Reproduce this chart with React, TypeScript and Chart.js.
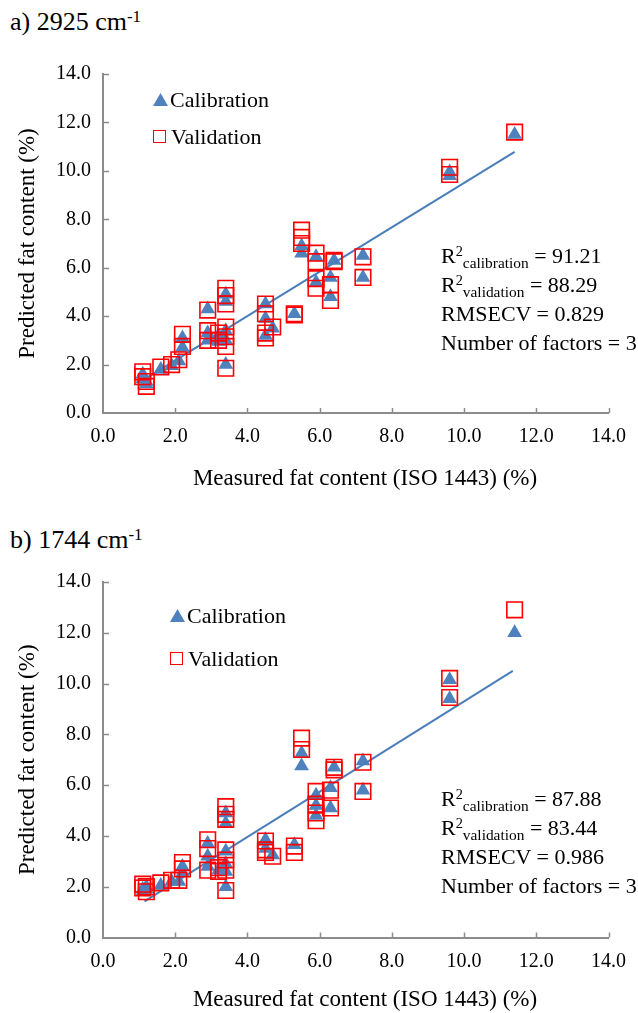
import React, { useEffect, useRef } from "react";
import { Chart, registerables } from "chart.js";

Chart.register(...registerables);

const FONT = "'Liberation Serif', 'Times New Roman', Times, serif";
const AXIS_COLOR = "#8c8c8c";
const CAL_COLOR = "#4f81bd";
const VAL_COLOR = "#ff0000";
const FIT_COLOR = "#4a7ebb";

// Tick values (labels shown with one decimal)
const xTickValues = [0, 2, 4, 6, 8, 10, 12, 14];
const yTickValues = [0, 2, 4, 6, 8, 10, 12, 14];

// ---------- Panel a) 2925 cm-1 ----------
const aCalX = [1.1, 1.1, 1.2, 1.2, 1.6, 1.9, 2.1, 2.2, 2.2, 2.9, 2.9, 2.9, 3.2, 3.2, 3.4, 3.4, 3.4, 3.4, 3.4, 4.5, 4.5, 4.5, 4.7, 5.3, 5.5, 5.5, 5.9, 5.9, 6.3, 6.3, 6.4, 7.2, 7.2, 9.6, 9.6, 11.4];
const aCalY = [1.6, 1.4, 1.3, 1.2, 1.8, 1.95, 2.15, 3.1, 2.7, 4.3, 3.3, 3.0, 3.2, 2.95, 4.9, 4.6, 3.4, 3.0, 2.0, 4.5, 3.9, 3.2, 3.5, 4.1, 6.9, 6.6, 6.45, 5.4, 5.6, 4.8, 6.3, 6.5, 5.6, 9.95, 9.8, 11.5];
const aValX = [1.1, 1.1, 1.2, 1.2, 1.6, 1.9, 2.1, 2.2, 2.2, 2.9, 2.9, 2.9, 3.2, 3.2, 3.4, 3.4, 3.4, 3.4, 3.4, 3.4, 3.4, 4.5, 4.5, 4.5, 4.5, 4.7, 5.3, 5.3, 5.5, 5.5, 5.5, 5.9, 5.9, 5.9, 5.9, 6.3, 6.3, 6.4, 6.4, 7.2, 7.2, 9.6, 9.6, 11.4];
const aValY = [1.7, 1.5, 1.3, 1.1, 1.9, 2.0, 2.2, 3.25, 2.75, 4.25, 3.4, 3.0, 3.3, 3.0, 5.15, 4.85, 4.5, 3.55, 3.15, 2.75, 1.85, 4.5, 4.1, 3.3, 3.1, 3.55, 4.1, 4.05, 7.55, 7.25, 7.0, 6.6, 6.25, 5.55, 5.15, 5.3, 4.65, 6.3, 6.25, 6.45, 5.6, 10.15, 9.85, 11.6];
const aFitX = [1.1, 11.4];
const aFitY = [1.35, 10.78];

// ---------- Panel b) 1744 cm-1 ----------
const bCalX = [1.1, 1.1, 1.2, 1.2, 1.6, 1.9, 2.1, 2.2, 2.2, 2.9, 2.9, 2.9, 3.2, 3.4, 3.4, 3.4, 3.4, 3.4, 3.4, 4.5, 4.5, 4.7, 5.3, 5.5, 5.5, 5.9, 5.9, 5.9, 6.3, 6.3, 6.4, 7.2, 7.2, 9.6, 9.6, 11.4];
const bCalY = [1.9, 1.8, 2.0, 1.9, 2.05, 2.2, 2.2, 2.8, 2.55, 3.7, 3.2, 2.8, 2.65, 4.9, 4.5, 3.4, 2.9, 2.6, 2.0, 3.85, 3.5, 3.25, 3.65, 7.25, 6.75, 5.6, 5.2, 4.8, 5.9, 5.1, 6.7, 6.95, 5.8, 10.15, 9.4, 12.0];
const bValX = [1.1, 1.1, 1.2, 1.2, 1.6, 1.9, 2.1, 2.2, 2.2, 2.9, 2.9, 2.9, 3.2, 3.2, 3.4, 3.4, 3.4, 3.4, 3.4, 3.4, 3.4, 4.5, 4.5, 4.5, 4.7, 5.3, 5.3, 5.5, 5.5, 5.9, 5.9, 5.9, 5.9, 6.3, 6.3, 6.4, 6.4, 7.2, 7.2, 9.6, 9.6, 11.4];
const bValY = [2.1, 1.95, 2.0, 1.8, 2.15, 2.25, 2.25, 2.95, 2.7, 3.85, 3.5, 2.65, 2.75, 2.6, 5.15, 4.85, 4.65, 3.45, 3.05, 2.65, 1.85, 3.8, 3.45, 3.35, 3.2, 3.6, 3.35, 7.85, 7.4, 5.75, 5.25, 4.9, 4.6, 5.8, 5.1, 6.7, 6.6, 6.9, 5.75, 10.2, 9.45, 12.9];
const bFitX = [1.15, 11.35];
const bFitY = [1.42, 10.5];

const toPoints = (xs: number[], ys: number[]) => xs.map((x, i) => ({ x, y: ys[i] }));

const innerTicks = {
  id: "innerTicks",
  afterDraw(chart: any) {
    const { ctx, chartArea: a, scales } = chart;
    ctx.save();
    ctx.strokeStyle = AXIS_COLOR;
    ctx.lineWidth = 1.5;
    scales.x.ticks.forEach((t: any) => {
      if (t.value === 0) return;
      const px = Math.round(scales.x.getPixelForValue(t.value)) + 0.5;
      ctx.beginPath();
      ctx.moveTo(px, a.bottom);
      ctx.lineTo(px, a.bottom - 5);
      ctx.stroke();
    });
    scales.y.ticks.forEach((t: any) => {
      if (t.value === 0) return;
      const py = Math.round(scales.y.getPixelForValue(t.value)) + 0.5;
      ctx.beginPath();
      ctx.moveTo(a.left, py);
      ctx.lineTo(a.left + 6, py);
      ctx.stroke();
    });
    ctx.restore();
  },
};

type PanelCfg = {
  width: number;
  height: number;
  padTop: number;
  padRight: number;
  yScaleWidth: number;
  xScaleHeight: number;
  cal: { x: number; y: number }[];
  val: { x: number; y: number }[];
  fit: { x: number; y: number }[];
};

function Panel({ cfg, style }: { cfg: PanelCfg; style: React.CSSProperties }) {
  const ref = useRef<HTMLCanvasElement | null>(null);
  useEffect(() => {
    if (!ref.current) return;
    const tickFont = { family: FONT, size: 20 };
    const chart = new Chart(ref.current, {
      type: "scatter",
      data: {
        datasets: [
          {
            label: "Validation",
            data: cfg.val,
            pointStyle: "rect",
            pointRadius: 11,
            pointHoverRadius: 11,
            borderColor: VAL_COLOR,
            backgroundColor: "rgba(0,0,0,0)",
            pointBorderWidth: 1.6,
            order: 0,
          } as any,
          {
            label: "Fit",
            type: "line",
            data: cfg.fit,
            borderColor: FIT_COLOR,
            borderWidth: 2,
            pointRadius: 0,
            showLine: true,
            fill: false,
            order: 1,
          } as any,
          {
            label: "Calibration",
            data: cfg.cal,
            pointStyle: "triangle",
            pointRadius: 8.5,
            pointHoverRadius: 8.5,
            borderColor: CAL_COLOR,
            backgroundColor: CAL_COLOR,
            pointBorderWidth: 0,
            order: 2,
          } as any,
        ],
      },
      options: {
        responsive: false,
        animation: false,
        devicePixelRatio: 1,
        events: [],
        layout: { padding: { top: cfg.padTop, right: cfg.padRight, left: 0, bottom: 0 } },
        plugins: { legend: { display: false }, tooltip: { enabled: false } },
        scales: {
          x: {
            type: "linear",
            min: 0,
            max: 14,
            afterBuildTicks: (s: any) => {
              s.ticks = xTickValues.map((v) => ({ value: v }));
            },
            afterFit: (s: any) => {
              s.height = cfg.xScaleHeight;
            },
            ticks: {
              callback: (v: any) => Number(v).toFixed(1),
              font: tickFont,
              color: "#000",
              padding: 12,
              maxRotation: 0,
              autoSkip: false,
            },
            grid: { display: true, drawOnChartArea: false, drawTicks: false },
            border: { display: true, color: AXIS_COLOR, width: 2 },
            title: { display: false },
          },
          y: {
            type: "linear",
            min: 0,
            max: 14,
            afterBuildTicks: (s: any) => {
              s.ticks = yTickValues.map((v) => ({ value: v }));
            },
            afterFit: (s: any) => {
              s.width = cfg.yScaleWidth;
            },
            ticks: {
              callback: (v: any) => Number(v).toFixed(1),
              font: tickFont,
              color: "#000",
              padding: 12,
              autoSkip: false,
            },
            grid: { display: true, drawOnChartArea: false, drawTicks: false },
            border: { display: true, color: AXIS_COLOR, width: 2 },
            title: {
              display: true,
              text: "Predicted fat content (%)",
              font: { family: FONT, size: 23 },
              color: "#000",
              padding: { top: 14.2, bottom: 0 },
            },
          },
        },
      } as any,
      plugins: [innerTicks],
    });
    return () => chart.destroy();
  }, []);
  return <canvas ref={ref} width={cfg.width} height={cfg.height} style={{ position: "absolute", ...style }} />;
}

const textBase: React.CSSProperties = {
  position: "absolute",
  fontFamily: FONT,
  color: "#000",
  whiteSpace: "nowrap",
};

const Sub = ({ children }: { children: React.ReactNode }) => (
  <span style={{ fontSize: "0.7em", position: "relative", top: "0.3em", lineHeight: 0 }}>{children}</span>
);
const Sup = ({ children }: { children: React.ReactNode }) => (
  <span style={{ fontSize: "0.65em", position: "relative", top: "-0.5em", lineHeight: 0 }}>{children}</span>
);

function Legend({ left, triY, sqY }: { left: number; triY: number; sqY: number }) {
  return (
    <>
      <svg style={{ position: "absolute", left: left, top: triY - 7 }} width={16} height={14}>
        <polygon points="7.5,0 15,13 0,13" fill={CAL_COLOR} />
      </svg>
      <div style={{ ...textBase, left: left + 17, top: triY - 15, fontSize: 22, lineHeight: "30px" }}>Calibration</div>
      <div
        style={{
          position: "absolute",
          left: left,
          top: sqY - 7,
          width: 11,
          height: 11,
          border: `1.6px solid ${VAL_COLOR}`,
        }}
      />
      <div style={{ ...textBase, left: left + 18, top: sqY - 15, fontSize: 22, lineHeight: "30px" }}>Validation</div>
    </>
  );
}

function Stats({ top, cal, val, rmse }: { top: number; cal: string; val: string; rmse: string }) {
  return (
    <div style={{ ...textBase, left: 441, top: top, fontSize: 22, lineHeight: "29px" }}>
      <div>
        R<Sup>2</Sup>
        <Sub>calibration</Sub> = {cal}
      </div>
      <div>
        R<Sup>2</Sup>
        <Sub>validation</Sub> = {val}
      </div>
      <div>RMSECV = {rmse}</div>
      <div>Number of factors = 3</div>
    </div>
  );
}

function XTitle({ centerY }: { centerY: number }) {
  return (
    <div style={{ ...textBase, left: 0, width: 730, textAlign: "center", top: centerY - 14, fontSize: 23, lineHeight: "28px" }}>
      Measured fat content (ISO 1443) (%)
    </div>
  );
}

const panelA: PanelCfg = {
  width: 638,
  height: 460,
  padTop: 21.4,
  padRight: 27.3,
  yScaleWidth: 103,
  xScaleHeight: 97,
  cal: toPoints(aCalX, aCalY),
  val: toPoints(aValX, aValY),
  fit: toPoints(aFitX, aFitY),
};

const panelB: PanelCfg = {
  width: 638,
  height: 483,
  padTop: 51.9,
  padRight: 27.3,
  yScaleWidth: 103,
  xScaleHeight: 75.5,
  cal: toPoints(bCalX, bCalY),
  val: toPoints(bValX, bValY),
  fit: toPoints(bFitX, bFitY),
};

export default function App() {
  return (
    <div style={{ position: "absolute", left: 0, top: 0, width: 638, height: 1013, background: "#fff", overflow: "hidden" }}>
      <div style={{ ...textBase, left: 10, top: 6, fontSize: 26, lineHeight: "32px" }}>
        a) 2925 cm<Sup>-1</Sup>
      </div>
      <Panel cfg={panelA} style={{ left: 0, top: 50 }} />
      <Legend left={153} triY={100} sqY={137} />
      <Stats top={241} cal="91.21" val="88.29" rmse="0.829" />
      <XTitle centerY={478} />

      <div style={{ ...textBase, left: 10, top: 524, fontSize: 26, lineHeight: "32px" }}>
        b) 1744 cm<Sup>-1</Sup>
      </div>
      <Panel cfg={panelB} style={{ left: 0, top: 530 }} />
      <Legend left={170} triY={616} sqY={659} />
      <Stats top={784} cal="87.88" val="83.44" rmse="0.986" />
      <XTitle centerY={999} />
    </div>
  );
}
